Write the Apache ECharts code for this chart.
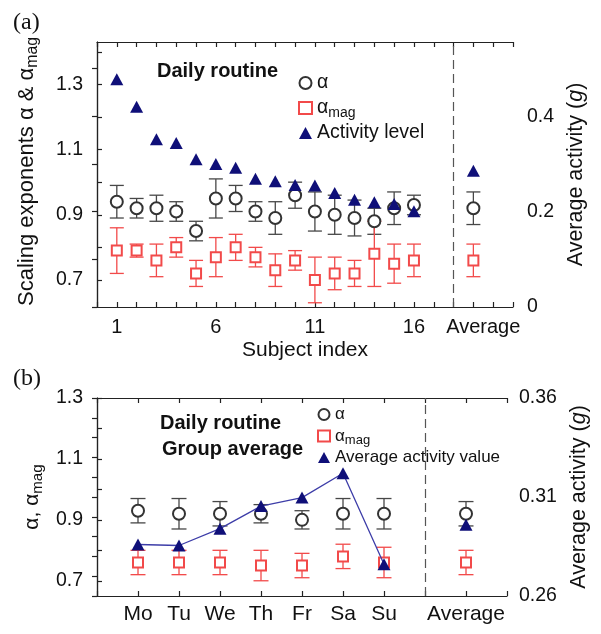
<!DOCTYPE html>
<html lang="en">
<head>
    <meta http-equiv="content-type" content="text/html; charset=utf-8" />
    <script type="text/javascript" src="https://cdn.jsdelivr.net/npm/echarts@6/dist/echarts.min.js"></script>
    <title>Scaling exponents</title>
    <style>
        html, body { margin: 0; padding: 0; background: #fff; }
        #chart { width: 601px; height: 634px; }
    </style>
</head>
<body>
<div id="chart"></div>
<script type="text/javascript">
    // panel (a): subjects
    var subjects = ['1','2','3','4','5','6','7','8','9','10','11','12','13','14','15','16'];
    var alphaA = [0.94, 0.92, 0.92, 0.91, 0.85, 0.95, 0.95, 0.91, 0.89, 0.96, 0.91, 0.90, 0.89, 0.88, 0.92, 0.93];
    var alphaErrA = [0.05, 0.03, 0.04, 0.03, 0.03, 0.06, 0.04, 0.03, 0.05, 0.04, 0.06, 0.06, 0.055, 0.04, 0.05, 0.03];
    var magA = [0.79, 0.79, 0.76, 0.80, 0.72, 0.77, 0.80, 0.77, 0.73, 0.76, 0.70, 0.72, 0.72, 0.78, 0.75, 0.76];
    var magErrA = [0.07, 0.02, 0.05, 0.03, 0.04, 0.06, 0.04, 0.03, 0.05, 0.03, 0.07, 0.05, 0.04, 0.10, 0.06, 0.05];
    var activityA = [0.478, 0.42, 0.352, 0.344, 0.31, 0.30, 0.292, 0.269, 0.264, 0.256, 0.255, 0.239, 0.225, 0.220, 0.216, 0.201];
    var avgA = { alpha: 0.92, alphaErr: 0.05, mag: 0.76, magErr: 0.05, activity: 0.286 };

    // panel (b): days of week
    var days = ['Mo', 'Tu', 'We', 'Th', 'Fr', 'Sa', 'Su'];
    var alphaB = [0.93, 0.92, 0.92, 0.92, 0.90, 0.92, 0.92];
    var alphaErrB = [0.04, 0.05, 0.04, 0.03, 0.03, 0.05, 0.05];
    var magB = [0.76, 0.76, 0.76, 0.75, 0.75, 0.78, 0.76];
    var magErrB = [0.04, 0.04, 0.04, 0.05, 0.04, 0.04, 0.05];
    var activityB = [0.286, 0.2855, 0.294, 0.3054, 0.3097, 0.322, 0.276];
    var avgB = { alpha: 0.92, alphaErr: 0.04, mag: 0.76, magErr: 0.04, activity: 0.296 };

    var leftTicksA = [0.7, 0.8, 0.9, 1.0, 1.1, 1.2, 1.3, 1.4];
    var leftLabelsA = [0.7, 0.9, 1.1, 1.3];
    var rightTicksA = [0, 0.1, 0.2, 0.3, 0.4, 0.5];
    var rightLabelsA = [0, 0.2, 0.4];
    var leftTicksB = [0.7, 0.8, 0.9, 1.0, 1.1, 1.2, 1.3];
    var leftLabelsB = [0.7, 0.9, 1.1, 1.3];
    var rightTicksB = [0.26, 0.27, 0.28, 0.29, 0.30, 0.31, 0.32, 0.33, 0.34, 0.35, 0.36];
    var rightLabelsB = [0.26, 0.31, 0.36];

    // where the dashed divider and the "Average" column sit on the x scale
    var dashA = subjects.length + 2, avgPosA = subjects.length + 3;
    var dashB = days.length + 1, avgPosB = days.length + 2;

    var FONT = 'Liberation Sans, Arial, sans-serif';
    var BLACK = '#333333';
    var GREY = '#474747';
    var RED = '#f24a4a';
    var NAVY = '#0f0f78';
    var LINE = '#3d3da8';

    function pts(vals, avg, avgPos) {
        var out = [];
        for (var i = 0; i < vals.length; i++) out.push([i + 1, vals[i]]);
        if (avg != null) out.push([avgPos, avg]);
        return out;
    }
    function errs(vals, e, avg, avgErr, avgPos) {
        var out = [];
        for (var i = 0; i < vals.length; i++) out.push([i + 1, vals[i] - e[i], vals[i] + e[i]]);
        out.push([avgPos, avg - avgErr, avg + avgErr]);
        return out;
    }
    function errRender(capW, color) {
        return function (params, api) {
            var x = api.value(0);
            var lo = api.coord([x, api.value(1)]);
            var hi = api.coord([x, api.value(2)]);
            var st = { stroke: color, lineWidth: 1.3 };
            return {
                type: 'group',
                children: [
                    { type: 'line', shape: { x1: lo[0], y1: lo[1], x2: hi[0], y2: hi[1] }, style: st },
                    { type: 'line', shape: { x1: lo[0] - capW / 2, y1: lo[1], x2: lo[0] + capW / 2, y2: lo[1] }, style: st },
                    { type: 'line', shape: { x1: hi[0] - capW / 2, y1: hi[1], x2: hi[0] + capW / 2, y2: hi[1] }, style: st }
                ]
            };
        };
    }

    var axisLine = { show: true, lineStyle: { color: '#222', width: 1.2 } };
    var tick = { show: true, inside: true, length: 5, lineStyle: { color: '#222', width: 1.2 } };
    var labelFont = { color: '#111', fontSize: 19.5, fontFamily: FONT };
    function nameRich(size) {
        return {
            g: { fontSize: size, lineHeight: 26, fontFamily: FONT, color: '#111' },
            s: { fontSize: size * 0.72, lineHeight: 26, fontFamily: FONT, color: '#111', padding: [11, 0, 0, 0] },
            i: { fontSize: size, lineHeight: 26, fontFamily: FONT, color: '#111', fontStyle: 'italic' }
        };
    }

    function fmt1(v) { return v === 0 ? '0' : v.toFixed(1); }

    var chart = echarts.init(document.getElementById('chart'), null, { renderer: 'canvas' });

    var option = {
        animation: false,
        backgroundColor: '#fff',
        grid: [
            { left: 97, top: 42, width: 416, height: 265 },
            { left: 97, top: 398, width: 410, height: 198 }
        ],
        xAxis: [
            {
                gridIndex: 0, type: 'value', min: 0, max: 21, interval: 1,
                axisLine: axisLine, axisTick: tick, splitLine: { show: false },
                axisLabel: {
                    // the "Average" label sits a little right of its column
                    customValues: [1, 6, 11, 16, avgPosA + 0.5], margin: 10,
                    color: '#111', fontSize: 20, fontFamily: FONT,
                    formatter: function (v) { return v > subjects.length ? 'Average' : subjects[v - 1]; }
                },
                name: 'Subject index', nameLocation: 'middle', nameGap: 33,
                nameTextStyle: { color: '#111', fontSize: 21, fontFamily: FONT }
            },
            {
                gridIndex: 0, type: 'value', position: 'top', min: 0, max: 21, interval: 1,
                axisLine: axisLine, axisTick: tick, axisLabel: { show: false }, splitLine: { show: false }
            },
            {
                gridIndex: 1, type: 'value', min: 0, max: 10, interval: 1,
                axisLine: axisLine, axisTick: tick, splitLine: { show: false },
                axisLabel: {
                    customValues: [1, 2, 3, 4, 5, 6, 7, avgPosB], margin: 8,
                    color: '#111', fontSize: 21, fontFamily: FONT,
                    formatter: function (v) { return v === avgPosB ? 'Average' : days[v - 1]; }
                }
            },
            {
                gridIndex: 1, type: 'value', position: 'top', min: 0, max: 10, interval: 1,
                axisLine: axisLine, axisTick: tick, axisLabel: { show: false }, splitLine: { show: false }
            }
        ],
        yAxis: [
            {
                gridIndex: 0, type: 'value', min: 0.617, max: 1.43, position: 'left',
                axisLine: axisLine, splitLine: { show: false },
                axisTick: Object.assign({ customValues: leftTicksA }, tick),
                axisLabel: Object.assign({ customValues: leftLabelsA, margin: 14, formatter: fmt1 }, labelFont),
                name: '{g|Scaling exponents α & α}{s|mag}', nameLocation: 'middle', nameRotate: 90, nameGap: 57,
                nameTextStyle: { rich: nameRich(22), padding: [0, 0, 0, 6] }
            },
            {
                gridIndex: 0, type: 'value', min: 0, max: 0.556, position: 'right',
                axisLine: axisLine, splitLine: { show: false },
                axisTick: Object.assign({ customValues: rightTicksA }, tick),
                axisLabel: Object.assign({ customValues: rightLabelsA, margin: 14, formatter: fmt1 }, labelFont),
                name: '{g|Average activity (}{i|g}{g|)}', nameLocation: 'middle', nameRotate: 90, nameGap: 45,
                nameTextStyle: { rich: nameRich(21.5) }
            },
            {
                gridIndex: 1, type: 'value', min: 0.65, max: 1.3, position: 'left',
                axisLine: axisLine, splitLine: { show: false },
                axisTick: Object.assign({ customValues: leftTicksB }, tick),
                axisLabel: Object.assign({ customValues: leftLabelsB, margin: 14, formatter: fmt1 }, labelFont),
                name: '{g|α, α}{s|mag}', nameLocation: 'middle', nameRotate: 90, nameGap: 42,
                nameTextStyle: { rich: nameRich(21) }
            },
            {
                gridIndex: 1, type: 'value', min: 0.26, max: 0.36, position: 'right',
                axisLine: axisLine, splitLine: { show: false },
                axisTick: Object.assign({ customValues: rightTicksB }, tick),
                axisLabel: Object.assign({ customValues: rightLabelsB, margin: 12, formatter: function (v) { return v.toFixed(2); } }, labelFont),
                name: '{g|Average activity (}{i|g}{g|)}', nameLocation: 'middle', nameRotate: 90, nameGap: 50,
                nameTextStyle: { rich: nameRich(21.5) }
            }
        ],
        legend: [
            {
                left: 298, top: 73, padding: 0, orient: 'vertical', itemWidth: 13, itemHeight: 12, itemGap: 3,
                data: [
                    { name: 'α', icon: 'emptyCircle' },
                    { name: 'αmag', icon: 'emptyRect' },
                    { name: 'Activity level', icon: 'triangle' }
                ],
                formatter: function (n) { return n === 'αmag' ? '{g|α}{s|mag}' : '{g|' + n + '}'; },
                textStyle: {
                    rich: {
                        g: { fontSize: 19.5, lineHeight: 25, fontFamily: FONT, color: '#111' },
                        s: { fontSize: 14, lineHeight: 25, fontFamily: FONT, color: '#111', padding: [10, 0, 0, 0] }
                    }
                }
            },
            {
                left: 317, top: 406, padding: 0, orient: 'vertical', itemWidth: 12, itemHeight: 11, itemGap: 2,
                data: [
                    { name: 'α ', icon: 'emptyCircle' },
                    { name: 'αmag ', icon: 'emptyRect' },
                    { name: 'Average activity value', icon: 'triangle' }
                ],
                formatter: function (n) { return n === 'αmag ' ? '{g|α}{s|mag}' : '{g|' + n + '}'; },
                textStyle: {
                    rich: {
                        g: { fontSize: 17, lineHeight: 22, fontFamily: FONT, color: '#111' },
                        s: { fontSize: 13, lineHeight: 22, fontFamily: FONT, color: '#111', padding: [9, 0, 0, 0] }
                    }
                }
            }
        ],
        graphic: [
            { type: 'text', left: 13, top: 11, style: { text: '(a)', fontSize: 24, fontFamily: 'Liberation Serif, Times New Roman, serif', fill: '#111' } },
            { type: 'text', left: 13, top: 367, style: { text: '(b)', fontSize: 24, fontFamily: 'Liberation Serif, Times New Roman, serif', fill: '#111' } },
            { type: 'text', left: 157, top: 61, style: { text: 'Daily routine', fontSize: 20, fontWeight: 'bold', fontFamily: FONT, fill: '#111' } },
            { type: 'text', left: 160, top: 413, style: { text: 'Daily routine', fontSize: 20, fontWeight: 'bold', fontFamily: FONT, fill: '#111' } },
            { type: 'text', left: 162, top: 439, style: { text: 'Group average', fontSize: 20, fontWeight: 'bold', fontFamily: FONT, fill: '#111' } }
        ],
        series: [
            // panel (a)
            {
                type: 'custom', xAxisIndex: 0, yAxisIndex: 0, z: 2, silent: true,
                data: errs(alphaA, alphaErrA, avgA.alpha, avgA.alphaErr, avgPosA), renderItem: errRender(14, GREY),
                markLine: {
                    silent: true, symbol: 'none', label: { show: false },
                    lineStyle: { color: '#555', width: 1.2, type: [9, 5] },
                    data: [{ xAxis: dashA }]
                }
            },
            {
                type: 'custom', xAxisIndex: 0, yAxisIndex: 0, z: 2, silent: true,
                data: errs(magA, magErrA, avgA.mag, avgA.magErr, avgPosA), renderItem: errRender(14, RED)
            },
            {
                name: 'α', type: 'scatter', xAxisIndex: 0, yAxisIndex: 0, z: 5,
                symbol: 'emptyCircle', symbolSize: 12, data: pts(alphaA, avgA.alpha, avgPosA),
                itemStyle: { color: BLACK, borderWidth: 1.3, opacity: 1 }
            },
            {
                name: 'αmag', type: 'scatter', xAxisIndex: 0, yAxisIndex: 0, z: 5,
                symbol: 'emptyRect', symbolSize: 10, data: pts(magA, avgA.mag, avgPosA),
                itemStyle: { color: RED, borderWidth: 1.3, opacity: 1 }
            },
            {
                name: 'Activity level', type: 'scatter', xAxisIndex: 0, yAxisIndex: 1, z: 6,
                symbol: 'triangle', symbolSize: [13, 12], data: pts(activityA, avgA.activity, avgPosA),
                itemStyle: { color: NAVY, opacity: 1 }
            },
            // panel (b)
            {
                type: 'custom', xAxisIndex: 2, yAxisIndex: 2, z: 2, silent: true,
                data: errs(alphaB, alphaErrB, avgB.alpha, avgB.alphaErr, avgPosB), renderItem: errRender(15, GREY),
                markLine: {
                    silent: true, symbol: 'none', label: { show: false },
                    lineStyle: { color: '#555', width: 1.2, type: [9, 5] },
                    data: [{ xAxis: dashB }]
                }
            },
            {
                type: 'custom', xAxisIndex: 2, yAxisIndex: 2, z: 2, silent: true,
                data: errs(magB, magErrB, avgB.mag, avgB.magErr, avgPosB), renderItem: errRender(15, RED)
            },
            {
                name: 'α ', type: 'scatter', xAxisIndex: 2, yAxisIndex: 2, z: 5,
                symbol: 'emptyCircle', symbolSize: 12, data: pts(alphaB, avgB.alpha, avgPosB),
                itemStyle: { color: BLACK, borderWidth: 1.3, opacity: 1 }
            },
            {
                name: 'αmag ', type: 'scatter', xAxisIndex: 2, yAxisIndex: 2, z: 5,
                symbol: 'emptyRect', symbolSize: 10, data: pts(magB, avgB.mag, avgPosB),
                itemStyle: { color: RED, borderWidth: 1.3, opacity: 1 }
            },
            {
                name: 'Average activity value', type: 'line', xAxisIndex: 2, yAxisIndex: 3, z: 6,
                symbol: 'triangle', symbolSize: [13, 12], showAllSymbol: true, data: pts(activityB, null),
                lineStyle: { color: LINE, width: 1.3 }, itemStyle: { color: NAVY, opacity: 1 }
            },
            {
                name: 'avg activity', type: 'scatter', xAxisIndex: 2, yAxisIndex: 3, z: 6,
                symbol: 'triangle', symbolSize: [13, 12],
                data: [[avgPosB, avgB.activity]], itemStyle: { color: NAVY, opacity: 1 }
            }
        ]
    };
    chart.setOption(option);
</script>
</body>
</html>
